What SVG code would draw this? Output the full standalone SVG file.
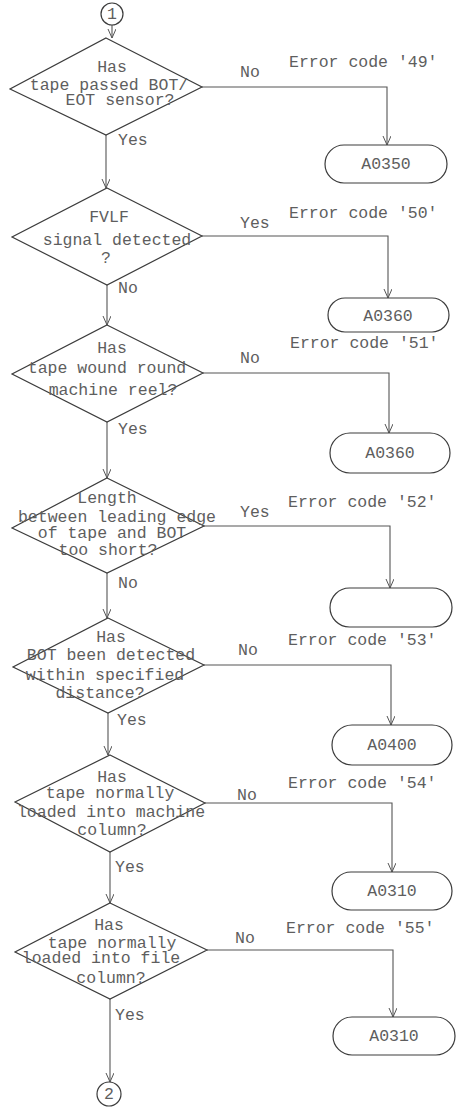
<svg xmlns="http://www.w3.org/2000/svg" width="461" height="1111" viewBox="0 0 461 1111">
  <style>
    .shape { fill: none; stroke: #3c3c3c; stroke-width: 1.2; }
    .wire { fill: none; stroke: #555; stroke-width: 1.1; }
    text { font-family: "Liberation Mono", "Courier New", monospace; font-size: 16.5px; fill: #5e5e5e; }
    .c { text-anchor: middle; }
  </style>
  <defs>
    <marker id="arrow" markerWidth="10" markerHeight="10" refX="9" refY="4" orient="auto" markerUnits="userSpaceOnUse">
      <path d="M0,0 L9,4 L0,8" fill="none" stroke="#555" stroke-width="1"/>
    </marker>
  </defs>

  <!-- connectors -->
  <g id="connectors" class="wire" marker-end="url(#arrow)">
    <path d="M112,25 V38"/>
    <path d="M106,135 V188"/>
    <path d="M107,285 V325"/>
    <path d="M107,422 V478"/>
    <path d="M107,573 V618"/>
    <path d="M108,713 V755"/>
    <path d="M110,852 V903"/>
    <path d="M110,999 V1082"/>
    <path d="M202,87 H387 V145"/>
    <path d="M202,236 H388 V298"/>
    <path d="M203,373 H389 V433"/>
    <path d="M204,526 H390 V588"/>
    <path d="M204,665 H391 V725"/>
    <path d="M205,803 H392 V872"/>
    <path d="M207,950 H393 V1017"/>
  </g>

  <!-- connector labels -->
  <g id="labels">
    <text x="240" y="77">No</text>
    <text x="240" y="228">Yes</text>
    <text x="240" y="363">No</text>
    <text x="240" y="517">Yes</text>
    <text x="238" y="655">No</text>
    <text x="237" y="800">No</text>
    <text x="235" y="943">No</text>
    <text x="118" y="145">Yes</text>
    <text x="118" y="293">No</text>
    <text x="118" y="434">Yes</text>
    <text x="118" y="588">No</text>
    <text x="117" y="725">Yes</text>
    <text x="115" y="872">Yes</text>
    <text x="115" y="1020">Yes</text>
    <text x="289" y="67">Error code '49'</text>
    <text x="289" y="218">Error code '50'</text>
    <text x="290" y="348">Error code '51'</text>
    <text x="288" y="507">Error code '52'</text>
    <text x="288" y="645">Error code '53'</text>
    <text x="288" y="788">Error code '54'</text>
    <text x="286" y="933">Error code '55'</text>
  </g>

  <!-- connector 1 -->
  <g id="start">
    <circle class="shape" cx="112" cy="14" r="11"/>
    <text class="c" x="112" y="19">1</text>
  </g>

  <g id="q1">
    <polygon class="shape" points="106,38 202,87 106,135 10,89"/>
    <text class="c" x="112" y="72">Has</text>
    <text class="c" x="109" y="90">tape passed BOT/</text>
    <text class="c" x="120" y="105">EOT sensor?</text>
  </g>
  <g id="t1">
    <rect class="shape" x="325" y="145" width="122" height="38" rx="19"/>
    <text class="c" x="386" y="169">A0350</text>
  </g>

  <g id="q2">
    <polygon class="shape" points="107,188 202,236 107,285 12,237"/>
    <text class="c" x="109" y="222">FVLF</text>
    <text class="c" x="117" y="245">signal detected</text>
    <text class="c" x="106" y="263">?</text>
  </g>
  <g id="t2">
    <rect class="shape" x="328" y="298" width="121" height="34" rx="17"/>
    <text class="c" x="388" y="321">A0360</text>
  </g>

  <g id="q3">
    <polygon class="shape" points="107,325 203,373 107,422 12,374"/>
    <text class="c" x="112" y="353">Has</text>
    <text class="c" x="107" y="373">tape wound round</text>
    <text class="c" x="113" y="395">machine reel?</text>
  </g>
  <g id="t3">
    <rect class="shape" x="330" y="433" width="120" height="40" rx="20"/>
    <text class="c" x="390" y="458">A0360</text>
  </g>

  <g id="q4">
    <polygon class="shape" points="107,478 204,526 107,573 12,528"/>
    <text class="c" x="107" y="503">Length</text>
    <text class="c" x="117" y="522">between leading edge</text>
    <text class="c" x="112" y="538">of tape and BOT</text>
    <text class="c" x="108" y="555">too short?</text>
  </g>
  <g id="t4">
    <rect class="shape" x="330" y="588" width="122" height="39" rx="19.5"/>
  </g>

  <g id="q5">
    <polygon class="shape" points="108,618 204,665 108,713 13,667"/>
    <text class="c" x="111" y="642">Has</text>
    <text class="c" x="111" y="660">BOT been detected</text>
    <text class="c" x="105" y="680">within specified</text>
    <text class="c" x="100" y="698">distance?</text>
  </g>
  <g id="t5">
    <rect class="shape" x="332" y="725" width="120" height="40" rx="20"/>
    <text class="c" x="392" y="750">A0400</text>
  </g>

  <g id="q6">
    <polygon class="shape" points="110,755 205,803 110,852 15,802"/>
    <text class="c" x="112" y="782">Has</text>
    <text class="c" x="110" y="798">tape normally</text>
    <text class="c" x="111" y="817">loaded into machine</text>
    <text class="c" x="112" y="835">column?</text>
  </g>
  <g id="t6">
    <rect class="shape" x="332" y="872" width="120" height="38" rx="19"/>
    <text class="c" x="392" y="896">A0310</text>
  </g>

  <g id="q7">
    <polygon class="shape" points="110,903 207,950 110,999 15,952"/>
    <text class="c" x="109" y="930">Has</text>
    <text class="c" x="112" y="948">tape normally</text>
    <text class="c" x="101" y="963">loaded into file</text>
    <text class="c" x="111" y="983">column?</text>
  </g>
  <g id="t7">
    <rect class="shape" x="333" y="1017" width="122" height="38" rx="19"/>
    <text class="c" x="394" y="1041">A0310</text>
  </g>

  <!-- connector 2 -->
  <g id="end">
    <circle class="shape" cx="109" cy="1094" r="12"/>
    <text class="c" x="109" y="1099">2</text>
  </g>
</svg>
